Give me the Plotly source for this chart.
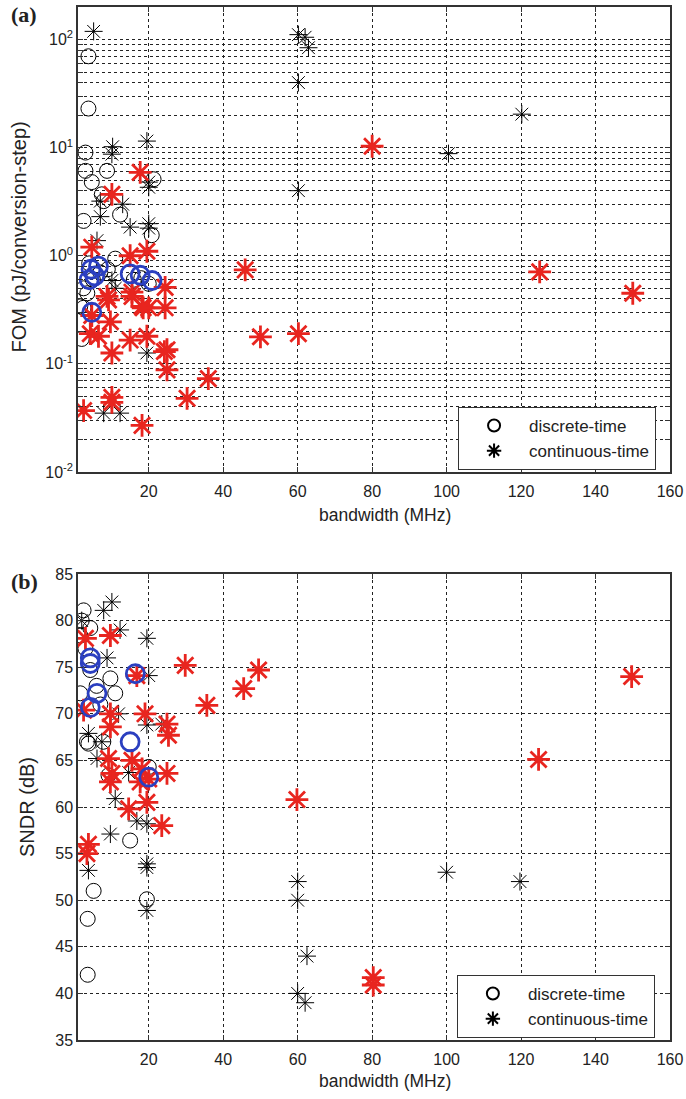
import plotly.graph_objects as go

# ---------------- panel (a): FOM vs bandwidth ----------------
dt_bw_a = [3.8, 3.8, 3.0, 3.0, 4.7, 8.8, 7.4, 7.9, 12.3, 2.5, 21.3, 20.8, 11.0,
           2.5, 2.0, 1.6, 2.5, 5.0, 7.0, 16.0, 18.0, 20.0, 9.0, 4.0, 3.5]
dt_fom_a = [70, 23, 9.0, 6.1, 4.8, 6.1, 3.7, 3.2, 2.4, 2.1, 5.1, 1.55, 0.94,
            0.33, 0.17, 0.34, 0.5, 0.6, 0.7, 0.6, 0.62, 0.55, 0.75, 0.85, 0.45]

ct_bw_a = [5.2, 60.2, 62.0, 62.9, 60.2, 120.2, 100.5, 60.2, 10.3, 10.1, 19.5, 20.0,
           20.0, 7.0, 7.0, 13.0, 15.0, 20.0, 20.0, 6.1, 10.1, 11.0, 19.5, 7.9, 12.3]
ct_fom_a = [119, 111, 105, 84, 40, 20.4, 8.8, 4.0, 10.2, 8.7, 11.5, 4.8,
            4.3, 3.2, 2.3, 3.0, 1.84, 1.98, 1.8, 1.38, 0.59, 0.5, 0.126, 0.035, 0.035]

hl_ct_bw_a = [17.7, 10.1, 4.7, 15.0, 19.5, 45.9, 125.0, 150.0, 80.0, 9.2, 15.5, 18.2,
              20.0, 24.4, 24.4, 9.7, 4.3, 6.5, 15.0, 19.5, 10.1, 24.9, 24.2, 24.9,
              36.0, 30.3, 18.2, 10.1, 10.1, 2.5, 50.0, 60.2, 4.7, 8.8, 15.5, 18.5]
hl_ct_fom_a = [5.9, 3.7, 1.2, 1.0, 1.1, 0.74, 0.71, 0.45, 10.3, 0.39, 0.46, 0.34,
               0.33, 0.51, 0.33, 0.245, 0.19, 0.18, 0.166, 0.18, 0.126, 0.135, 0.13, 0.088,
               0.073, 0.048, 0.027, 0.049, 0.044, 0.037, 0.178, 0.19, 0.28, 0.42, 0.42, 0.33]

hl_dt_bw_a = [4.5, 5.5, 6.5, 4.0, 15.0, 17.7, 20.9, 4.7]
hl_dt_fom_a = [0.75, 0.65, 0.8, 0.6, 0.68, 0.66, 0.59, 0.30]

# ---------------- panel (b): SNDR vs bandwidth ----------------
dt_bw_b = [2.5, 2.0, 1.6, 4.3, 4.3, 9.7, 11.0, 1.6, 3.4, 7.8, 9.2, 20.0, 3.8,
           15.0, 5.2, 3.6, 3.6, 19.5, 7.0, 6.0, 3.0]
dt_sndr_b = [81.1, 80.0, 78.4, 79.2, 74.7, 73.8, 72.2, 72.2, 67.0, 67.0, 63.4, 64.3, 66.8,
             56.4, 51.0, 48.0, 42.0, 50.1, 71.0, 73.0, 77.0]

ct_bw_b = [10.1, 7.9, 12.3, 19.5, 2.0, 8.8, 11.9, 3.8, 7.4, 6.1, 14.6, 11.0, 19.5,
           23.5, 20.0, 16.8, 19.5, 9.7, 3.8, 19.5, 19.5, 19.5, 60.0, 60.0, 60.0,
           62.0, 62.5, 100.0, 119.7]
ct_sndr_b = [82.0, 81.1, 79.0, 78.1, 80.0, 76.0, 70.0, 67.9, 67.0, 65.2, 63.7, 60.9, 68.8,
             68.9, 74.1, 58.5, 58.2, 57.1, 53.2, 53.9, 53.5, 48.9, 52.0, 50.0, 40.0,
             39.0, 44.0, 53.0, 52.0]

hl_ct_bw_b = [3.0, 9.7, 16.8, 9.7, 9.7, 19.0, 24.9, 25.3, 2.5, 9.2, 15.5, 10.1, 18.2,
              24.9, 9.7, 17.7, 14.6, 19.5, 23.5, 3.8, 3.4, 29.8, 35.6, 45.5, 49.5,
              124.7, 149.7, 59.8, 80.3, 80.3, 20.0]
hl_ct_sndr_b = [78.1, 78.4, 74.1, 70.0, 68.6, 70.0, 68.9, 67.7, 70.4, 65.2, 65.0, 63.6, 64.1,
                63.6, 62.7, 62.7, 59.8, 60.5, 58.0, 56.0, 55.0, 75.2, 70.9, 72.7, 74.7,
                65.1, 74.0, 60.8, 41.7, 40.9, 63.0]

hl_dt_bw_b = [4.3, 4.3, 6.1, 4.3, 15.0, 16.4, 20.0]
hl_dt_sndr_b = [76.0, 75.4, 72.2, 70.7, 67.0, 74.3, 63.2]

x_ticks = [20, 40, 60, 80, 100, 120, 140, 160]

FONT = "Liberation Sans, Arial, sans-serif"
SERIF = "Liberation Serif, Times New Roman, serif"
BLUE = "#2b3fc0"
RED = "#e8251f"
TXT = "#222"

fig = go.Figure()


def add_panel(xa, ya, leg, dbw, dv, cbw, cv, rbw, rv, bbw, bv):
    fig.add_trace(go.Scatter(
        x=dbw, y=dv, mode="markers", name="discrete-time", xaxis=xa, yaxis=ya,
        legend=leg,
        marker=dict(symbol="circle-open", size=15, color="black",
                    line=dict(color="black", width=1))))
    fig.add_trace(go.Scatter(
        x=cbw, y=cv, mode="markers", name="continuous-time", xaxis=xa, yaxis=ya,
        legend=leg,
        marker=dict(symbol="asterisk-open", size=15, color="black",
                    line=dict(color="black", width=1))))
    fig.add_trace(go.Scatter(
        x=rbw, y=rv, mode="markers", showlegend=False, xaxis=xa, yaxis=ya,
        marker=dict(symbol="asterisk-open", size=19, color=RED,
                    line=dict(color=RED, width=2.8))))
    fig.add_trace(go.Scatter(
        x=bbw, y=bv, mode="markers", showlegend=False, xaxis=xa, yaxis=ya,
        marker=dict(symbol="circle-open", size=18, color=BLUE,
                    line=dict(color=BLUE, width=2.8))))


add_panel("x", "y", "legend", dt_bw_a, dt_fom_a, ct_bw_a, ct_fom_a,
          hl_ct_bw_a, hl_ct_fom_a, hl_dt_bw_a, hl_dt_fom_a)
add_panel("x2", "y2", "legend2", dt_bw_b, dt_sndr_b, ct_bw_b, ct_sndr_b,
          hl_ct_bw_b, hl_ct_sndr_b, hl_dt_bw_b, hl_dt_sndr_b)

# log tick values
log_vals, log_text = [], []
for e in range(-2, 3):
    for k in range(1, 10):
        v = k * 10 ** e
        if v > 200:
            break
        log_vals.append(v)
        log_text.append(f"10<sup>{e}</sup>" if k == 1 else "")

grid = dict(showgrid=True, gridcolor="#222", gridwidth=1, griddash="3px,3px",
            showline=True, linecolor="#333", linewidth=1.5, mirror="ticks",
            ticks="inside", ticklen=5, tickcolor="#333", zeroline=False,
            automargin=False,
            tickfont=dict(family=FONT, size=16, color=TXT))

legend_common = dict(xanchor="left", yanchor="top", bgcolor="white",
                     bordercolor="#333", borderwidth=1,
                     font=dict(family=FONT, size=17, color=TXT),
                     traceorder="normal", itemsizing="constant", itemwidth=60)


def ann(text, x, y, size, family=FONT, angle=0):
    return dict(text=text, x=x, y=y, xref="paper", yref="paper",
                xanchor="center", yanchor="middle", showarrow=False,
                textangle=angle, font=dict(family=family, size=size, color=TXT))


fig.update_layout(
    width=686, height=1099,
    margin=dict(l=78, r=16, t=7, b=59),
    paper_bgcolor="white", plot_bgcolor="white",
    font=dict(family=FONT, size=16, color=TXT),
    xaxis=dict(domain=[0, 1], anchor="y", range=[1, 160], tickvals=x_ticks,
               ticklabelstandoff=4, **grid),
    yaxis=dict(domain=[0.5499, 1.0], anchor="x", type="log",
               range=[-2, 2.301], tickvals=log_vals, ticktext=log_text, **grid),
    xaxis2=dict(domain=[0, 1], anchor="y2", range=[1, 160], tickvals=x_ticks,
                ticklabelstandoff=4, **grid),
    yaxis2=dict(domain=[0, 0.4511], anchor="x2", range=[35, 85], dtick=5, **grid),
    legend=dict(x=0.642, y=0.6128, **legend_common),
    legend2=dict(x=0.640, y=0.0629, **legend_common),
    annotations=[
        ann("<b>(a)</b>", -0.0912, 0.9923, 22, SERIF),
        ann("<b>(b)</b>", -0.0912, 0.4434, 22, SERIF),
        ann("FOM (pJ/conversion-step)", -0.0997, 0.7778, 20, angle=-90),
        ann("SNDR (dB)", -0.0861, 0.2256, 20, angle=-90),
        ann("bandwidth (MHz)", 0.5186, 0.5082, 17.5),
        ann("bandwidth (MHz)", 0.5186, -0.0397, 17.5),
    ],
)

fig.write_html("out.html",
               config={"displayModeBar": False},
               post_script="document.body.style.margin='0px';"
                           "document.body.style.overflow='hidden';")
